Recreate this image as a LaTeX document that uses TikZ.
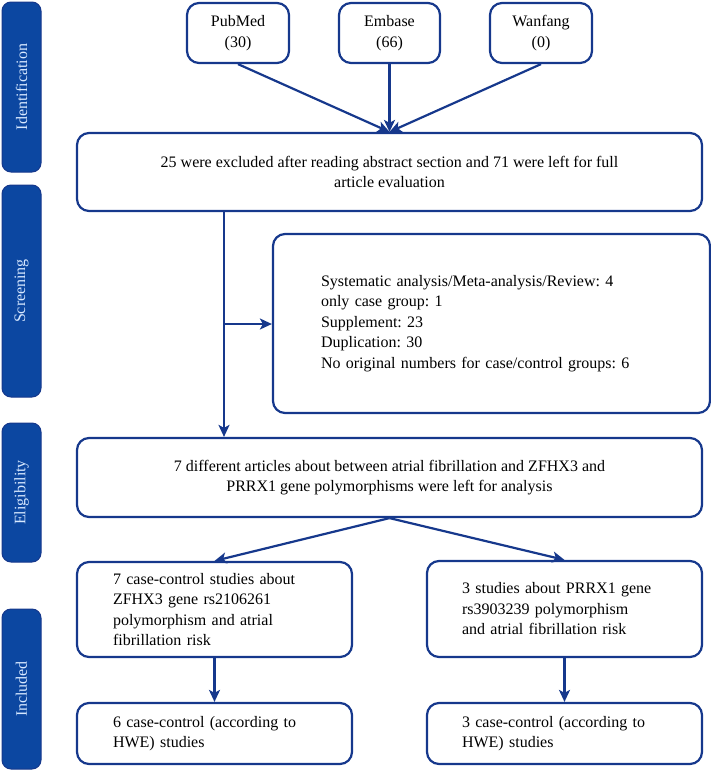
\documentclass[tikz,border=0pt]{standalone}
\usepackage{fontspec}
\setmainfont{Liberation Serif}
\usepackage{tikz}
\usetikzlibrary{arrows.meta}
\definecolor{boxblue}{RGB}{22,56,140}
\definecolor{barblue}{RGB}{12,71,161}
\definecolor{bartext}{RGB}{215,232,255}
\frenchspacing

\begin{document}
\begin{tikzpicture}[x=1pt, y=-1pt, font=\fontsize{16}{20.5}\selectfont,
    box/.style={rectangle, draw=boxblue, line width=2.2pt, rounded corners=12pt, inner sep=0pt},
    bar/.style={rectangle, draw=boxblue, fill=barblue, line width=1pt, rounded corners=9pt, minimum height=39pt, text=bartext, rotate=90},
    link/.style={draw=boxblue, line width=2.2pt, -{Stealth[length=12pt, width=11pt, inset=3pt]}}]
    \useasboundingbox (0,0) rectangle (711,772);
    \node[bar, minimum width=170pt] (ident) at (21.5,87) {Identification};
    \node[bar, minimum width=212pt] (screening) at (21.5,291) {Screening};
    \node[bar, minimum width=139pt] (eligibility) at (21.5,492.5) {Eligibility};
    \node[bar, minimum width=160pt] (included) at (21.5,689) {Included};
    \node[box, minimum width=102pt, minimum height=60pt, align=center] (pubmed) at (238,33) {PubMed\\(30)};
    \node[box, minimum width=101pt, minimum height=60pt, align=center] (embase) at (389.5,33) {Embase\\(66)};
    \node[box, minimum width=102pt, minimum height=60pt, align=center] (wanfang) at (541,33) {Wanfang\\(0)};
    \node[box, minimum width=625pt, minimum height=78pt, align=center] (excl) at (389.5,172) {25 were excluded after reading abstract section and 71 were left for full\\article evaluation};
    \node[box, minimum width=437pt, minimum height=179pt, text width=341pt, align=left] (review) at (491.5,323.5) {Systematic analysis/Meta-analysis/Review: 4\\only case group: 1\\Supplement: 23\\Duplication: 30\\No original numbers for case/control groups: 6};
    \node[box, minimum width=625pt, minimum height=79pt, align=center] (elig) at (389.5,477.5) {7 different articles about between atrial fibrillation and ZFHX3 and\\PRRX1 gene polymorphisms were left for analysis};
    \node[box, minimum width=275pt, minimum height=95pt, text width=203pt, align=left] (zfhx) at (214.5,609.5) {7 case-control studies about\\ZFHX3 gene rs2106261\\polymorphism and atrial\\fibrillation risk};
    \node[box, minimum width=275pt, minimum height=96pt, text width=205pt, align=left] (prrx) at (564.5,609) {3 studies about PRRX1 gene\\rs3903239 polymorphism\\and atrial fibrillation risk};
    \node[box, minimum width=275pt, minimum height=61pt, text width=203pt, align=left] (hwesix) at (214.5,733.5) {6 case-control (according to\\HWE) studies};
    \node[box, minimum width=275pt, minimum height=61pt, text width=205pt, align=left] (hwethree) at (564.5,733.5) {3 case-control (according to\\HWE) studies};
    \coordinate (branch) at (224,324);
    \draw[link] (pubmed.south) -- (excl.north);
    \draw[link] (embase.south) -- (excl.north);
    \draw[link] (wanfang.south) -- (excl.north);
    \draw[link] (excl.south -| branch) -- (elig.north -| branch);
    \draw[link] (branch) -- (branch -| review.west);
    \draw[link] (elig.south) -- (zfhx.north);
    \draw[link] (elig.south) -- (prrx.north);
    \draw[link] (zfhx) -- (hwesix);
    \draw[link] (prrx) -- (hwethree);
\end{tikzpicture}
\end{document}
